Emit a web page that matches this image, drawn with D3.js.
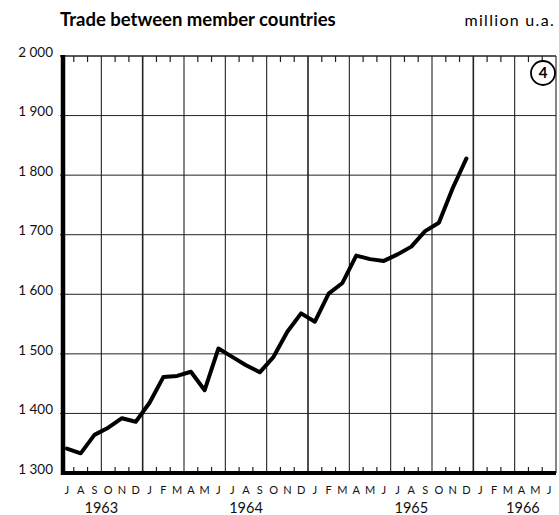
<!DOCTYPE html>
<html><head><meta charset="utf-8">
<script src="https://cdn.jsdelivr.net/npm/d3@7"></script>
<style>body{margin:0;background:#fff}svg{display:block}</style>
</head><body>
<svg id="c" width="559" height="515"></svg>
<script>
// ---- data ----
const monthLetters = ["J","A","S","O","N","D","J","F","M","A","M","J","J","A","S","O","N","D","J","F","M","A","M","J","J","A","S","O","N","D","J","F","M","A","M","J"];
const monthStart = "1963-07"; // first month shown: July 1963, 36 months to June 1966
const values = [1341,1333,1364,1376,1392,1386,1418,1461,1463,1470,1439,1509,1495,1481,1469,1495,1537,1568,1554,1601,1619,1665,1659,1656,1667,1680,1706,1720,1778,1828];
const yTicks = [1300,1400,1500,1600,1700,1800,1900,2000];
const yTickLabels = ["1 300","1 400","1 500","1 600","1 700","1 800","1 900","2 000"];
const years = ["1963","1964","1965","1966"];
const yearPos = [3.0,13.5,25.5,33.6]; // month-index position of year labels
const title = "Trade between member countries";
const unit = "million u.a.";
const chartNo = "4";

const svg = d3.select("#c");
const font = "Lato, 'Open Sans', sans-serif";
const x = d3.scaleLinear().domain([0,36]).range([60,556]);
const y = d3.scaleLinear().domain([1300,2000]).range([473,56]);

// horizontal grid
svg.append("g").selectAll("line").data(yTicks.filter(v=>v>1300)).join("line")
  .attr("x1",x(0)).attr("x2",x(36)).attr("y1",d=>y(d)).attr("y2",d=>y(d))
  .attr("stroke","#222").attr("stroke-width",d=>d===2000?1.4:1);

// vertical grid every 3 months
const grid = d3.range(3,37,3);
svg.append("g").selectAll("line").data(grid).join("line")
  .attr("x1",d=>x(d)).attr("x2",d=>x(d)).attr("y1",y(2000)).attr("y2",y(1300))
  .attr("stroke","#222").attr("stroke-width",d=>d%6===0 && (d/6)%2===1?1.6:1.1);

// ticks at other month boundaries
const tk = d3.range(1,36).filter(d=>d%3!==0);
svg.append("g").selectAll("line").data(tk).join("line")
  .attr("x1",d=>x(d)).attr("x2",d=>x(d)).attr("y1",y(2000)).attr("y2",y(2000)+6)
  .attr("stroke","#222").attr("stroke-width",1.2);
svg.append("g").selectAll("line").data(tk).join("line")
  .attr("x1",d=>x(d)).attr("x2",d=>x(d)).attr("y1",y(1300)).attr("y2",y(1300)-6)
  .attr("stroke","#222").attr("stroke-width",1.2);

// axes lines
svg.append("line").attr("x1",x(0)+3).attr("x2",x(0)+3).attr("y1",y(2000)-1).attr("y2",y(1300)+2)
  .attr("stroke","#000").attr("stroke-width",4.5);
svg.append("line").attr("x1",x(0)+1).attr("x2",x(36)).attr("y1",y(1300)).attr("y2",y(1300))
  .attr("stroke","#000").attr("stroke-width",4);

// y labels
svg.append("g").selectAll("text").data(yTicks).join("text")
  .attr("x",53).attr("y",(d)=>y(d)-4).attr("dy","0.35em")
  .attr("text-anchor","end").attr("font-family",font).attr("font-size",13.5)
  .attr("fill","#111").text((d,i)=>yTickLabels[i]);

// month labels
svg.append("g").selectAll("text").data(monthLetters).join("text")
  .attr("x",(d,i)=>x(i+0.5)).attr("y",494).attr("text-anchor","middle")
  .attr("font-family",font).attr("font-size",11).attr("fill","#111").text(d=>d);

// year labels
svg.append("g").selectAll("text").data(years).join("text")
  .attr("x",(d,i)=>x(yearPos[i])).attr("y",513).attr("text-anchor","middle")
  .attr("font-family",font).attr("font-size",14.5).attr("fill","#111").text(d=>d);

// data line
const line = d3.line().x((d,i)=>x(i+0.5)).y(d=>y(d));
svg.append("path").datum(values).attr("d",line).attr("fill","none")
  .attr("stroke","#000").attr("stroke-width",4).attr("stroke-linejoin","round").attr("stroke-linecap","round");

// title + unit
svg.append("text").attr("x",60).attr("y",26).attr("font-family",font).attr("font-weight","bold")
  .attr("font-size",18.5).attr("fill","#000").text(title);
svg.append("text").attr("x",555).attr("y",26).attr("text-anchor","end").attr("font-family",font)
  .attr("font-size",16).attr("letter-spacing",1.3).attr("fill","#000").text(unit);

// circled number
svg.append("circle").attr("cx",543).attr("cy",73).attr("r",12).attr("fill","#fff")
  .attr("stroke","#000").attr("stroke-width",1.8);
svg.append("text").attr("x",543).attr("y",73).attr("dy","0.36em").attr("text-anchor","middle")
  .attr("font-family",font).attr("font-weight","bold").attr("font-size",15).text(chartNo);
</script>
</body></html>
